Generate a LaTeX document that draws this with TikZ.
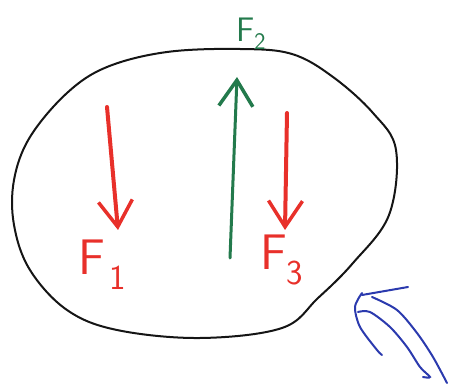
\documentclass[tikz,border=0pt]{standalone}
\usetikzlibrary{arrows.meta}
\definecolor{Ink}{HTML}{151515}
\definecolor{Crimson}{HTML}{E8302A}
\definecolor{Pine}{HTML}{237A4C}
\definecolor{Royal}{HTML}{2B3AAE}
\begin{document}
\begin{tikzpicture}[x=1pt,y=-1pt,
    force/.style={line width=4pt,line cap=round,
      -{Straight Barb[length=26pt,width=34pt,line width=3.5pt]}},
    lab/.style={font=\sffamily\fontsize{50}{50}\selectfont,inner sep=0pt}]
  \useasboundingbox (0,0) rectangle (450,387);
  % body outline
  \draw[Ink,line width=2pt] plot[smooth cycle,tension=0.6] coordinates {
    (167,52) (240,49) (292,54) (333,77) (373,113) (396,150)
    (389,215) (353,263) (318,298) (282,328) (200,338) (117,330) (67,310)
    (30,270) (14,225) (14,180) (30,137) (67,93) (107,67)};
  % downward forces
  \foreach \i/\xa/\ya/\xb/\yb in {1/107/107/118/230, 3/287/113/285/230}
    {
      \coordinate (f\i top) at (\xa,\ya);
      \coordinate (f\i tip) at (\xb,\yb);
      \draw[force,Crimson] (f\i top) -- (f\i tip);
    }
  \node[lab,text=Crimson,anchor=north west] (f1lab) at (78,240) {F\hspace{5pt}\textsubscript{1}};
  \node[lab,text=Crimson,anchor=north west] (f3lab) at (260,235) {F\textsubscript{3}};
  % upward force
  \coordinate (f2foot) at (230,258);
  \coordinate (f2tip) at (237,77);
  \draw[force,Pine,line width=3pt] (f2foot) -- (f2tip);
  \node[lab,text=Pine,anchor=north west,font=\sffamily\fontsize{34}{34}\selectfont]
    (f2lab) at (236,18) {F\textsubscript{2}};
  % blue scribble
  \begin{scope}[Royal,line width=2pt,line cap=round]
    \draw (362,295) -- (408,287);
    \draw plot[smooth] coordinates {(362,293) (355,307) (360,327) (377,350) (382,355)};
    \draw plot[smooth] coordinates {(358,312) (370,312) (390,327) (407,347) (420,367) (430,377) (423,377)};
    \draw plot[smooth] coordinates {(372,297) (397,310) (417,333) (433,357) (447,383)};
  \end{scope}
\end{tikzpicture}
\end{document}
